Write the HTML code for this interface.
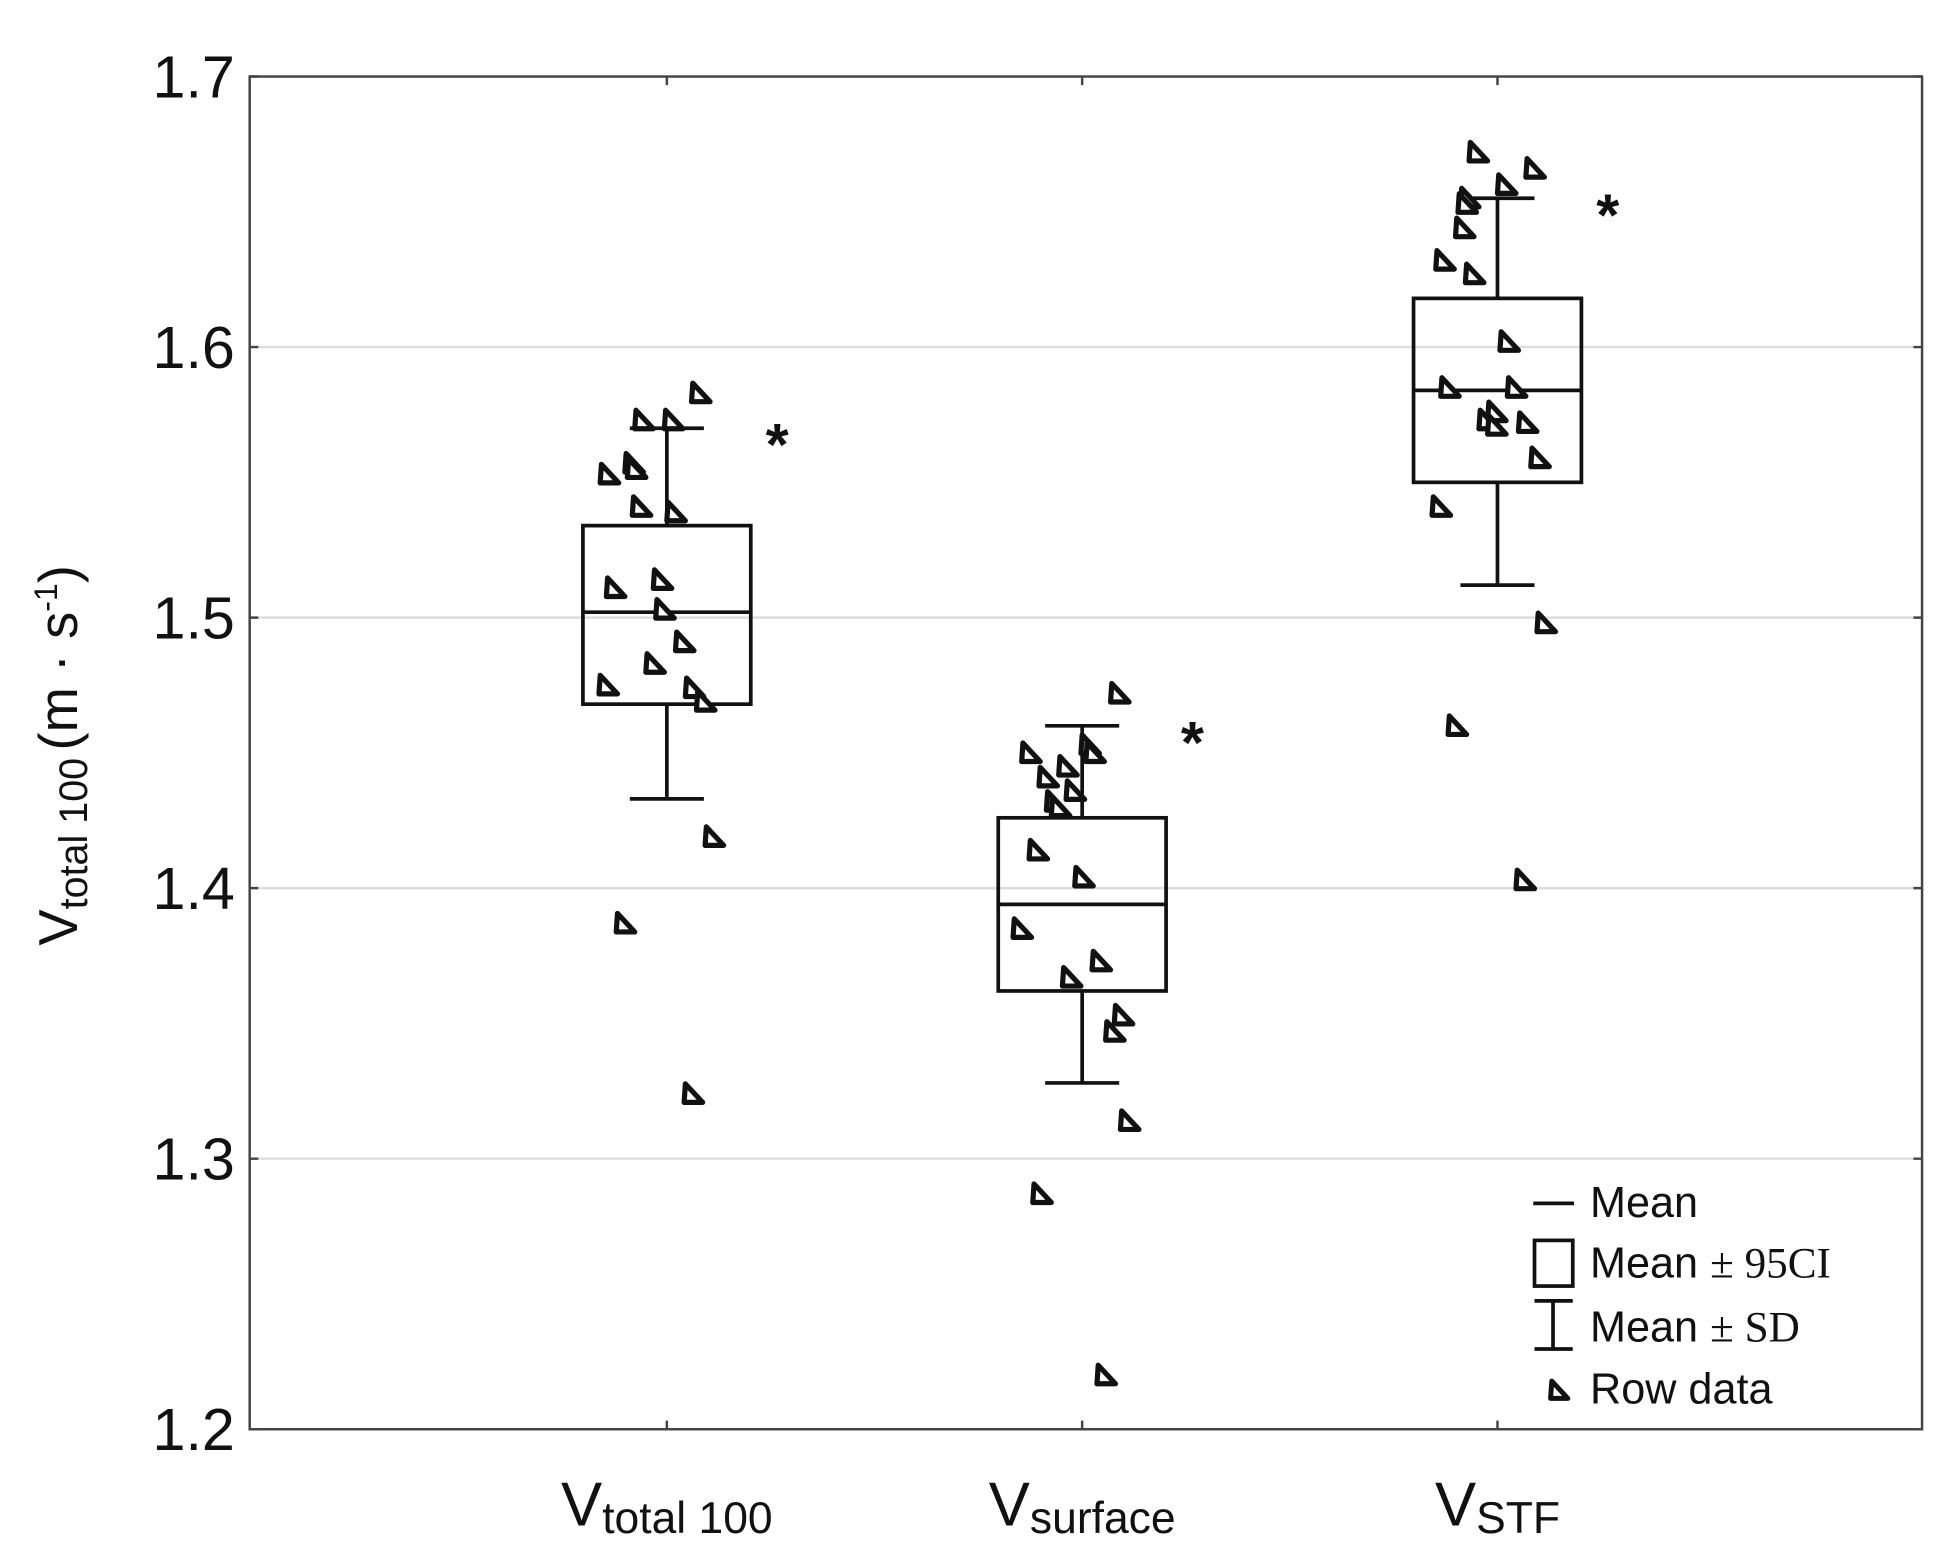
<!DOCTYPE html>
<html><head><meta charset="utf-8"><style>
html,body{margin:0;padding:0;background:#fff;}
svg{display:block;font-family:"Liberation Sans",sans-serif;}
</style></head><body>
<svg id="chart" width="1936" height="1565" viewBox="0 0 1568 1268" xmlns="http://www.w3.org/2000/svg">
<g id="grid"></g>
<rect x="202" y="62" width="1355" height="1096" fill="none" stroke="#444" stroke-width="2"/>
<g id="yaxis"></g>
<g id="xaxis"></g>
<g id="marks"></g>
<text transform="translate(62,612) rotate(-90)" text-anchor="middle" font-size="44" fill="#111">V<tspan font-size="32" dy="8">total 100</tspan><tspan dy="-8" dx="6">(m · s</tspan><tspan font-size="26" dy="-16">-1</tspan><tspan dy="16">)</tspan></text>
<g>
  <line x1="1242" y1="975" x2="1275" y2="975" stroke="#111" stroke-width="3"/>
  <text x="1288" y="986" font-size="35" fill="#111">Mean</text>
  <rect x="1243" y="1005" width="31" height="37" fill="none" stroke="#111" stroke-width="3"/>
  <text x="1288" y="1035" font-size="35" fill="#111">Mean <tspan font-family="Liberation Serif" font-size="35">± 95CI</tspan></text>
  <path d="M1243,1054 H1274 M1258,1054 V1093 M1243,1093 H1274" fill="none" stroke="#111" stroke-width="3"/>
  <text x="1288" y="1087" font-size="35" fill="#111">Mean <tspan font-family="Liberation Serif" font-size="35">± SD</tspan></text>
  <path d="M1256,1133 L1257,1119 L1270,1133 Z" fill="#fff" stroke="#111" stroke-width="4" stroke-linejoin="round"/>
  <text x="1288" y="1137" font-size="35" fill="#111">Row data</text>
</g>
</svg>
<script>
const categories = ["total 100", "surface", "STF"];
const means = [1.502, 1.394, 1.584];
const ciLow = [1.468, 1.362, 1.550];
const ciHigh = [1.534, 1.426, 1.618];
const sdLow = [1.433, 1.328, 1.512];
const sdHigh = [1.570, 1.460, 1.655];
const yTicks = [1.2, 1.3, 1.4, 1.5, 1.6, 1.7];
const yTickLabels = ["1.2", "1.3", "1.4", "1.5", "1.6", "1.7"];
const raw0 = [1.583,1.573,1.573,1.553,1.557,1.555,1.541,1.539,1.511,1.514,1.503,1.491,1.483,1.475,1.474,1.469,1.419,1.387,1.324];
const raw1 = [1.472,1.450,1.453,1.450,1.445,1.441,1.436,1.432,1.430,1.414,1.404,1.385,1.373,1.367,1.353,1.347,1.314,1.287,1.220];
const raw2 = [1.672,1.666,1.660,1.655,1.653,1.644,1.632,1.627,1.602,1.585,1.585,1.576,1.573,1.571,1.572,1.559,1.541,1.498,1.460,1.403];
const jitter0 = [27,-19,5,-47,-27,-25,-21,7,-42,-4,-2,14,-10,-48,22,31,38,-34,21];
const jitter1 = [30,-42,6,10,-12,-28,-6,-22,-18,-36,1,-49,15,-9,33,26,38,-33,19];
const jitter2 = [-16,30,7,-23,-25,-27,-43,-19,9,-39,15,-1,-8,-1,24,34,-46,39,-33,22];
const raws=[raw0,raw1,raw2], jits=[jitter0,jitter1,jitter2];
const NS="http://www.w3.org/2000/svg";
const L=202,R=1557,T=62,B=1158,vmin=1.2,vmax=1.7;
const y=v=>B-(v-vmin)/(vmax-vmin)*(B-T);
const x=i=>540+i*336.5;
function mk(tag,attrs,parent){const e=document.createElementNS(NS,tag);for(const k in attrs)e.setAttribute(k,attrs[k]);parent.appendChild(e);return e;}
const grid=document.getElementById('grid'),ya=document.getElementById('yaxis'),xa=document.getElementById('xaxis'),marks=document.getElementById('marks');
yTicks.forEach((t,i)=>{
  if(t>vmin&&t<vmax){const g=mk('line',{x1:L,x2:R,y1:y(t),y2:y(t),stroke:'#ddd','stroke-width':2},grid);
  
  }
  const tk=mk('path',{d:`M${L},${y(t)} h7 M${R},${y(t)} h-7`,stroke:'#444','stroke-width':2},ya);
  
  
  const lb=mk('text',{x:190,y:y(t)+17,'text-anchor':'end','font-size':48,fill:'#111'},ya);
  lb.textContent=yTickLabels[i];
  
  
});
categories.forEach((c,i)=>{
  const cx=x(i);
  const tk=mk('path',{d:`M${cx},${B} v-7 M${cx},${T} v7`,stroke:'#444','stroke-width':2},xa);
  
  
  const lb=mk('text',{x:cx,y:1236,'text-anchor':'middle','font-size':50,fill:'#111'},xa);
  lb.innerHTML=`V<tspan font-size="36" dy="6">${c}</tspan>`;
  
  
  const g=mk('g',{},marks);
  
  
  const w=mk('path',{d:`M${cx},${y(sdHigh[i])} V${y(ciHigh[i])} M${cx},${y(ciLow[i])} V${y(sdLow[i])} M${cx-30},${y(sdHigh[i])} h60 M${cx-30},${y(sdLow[i])} h60`,stroke:'#111','stroke-width':3,fill:'none'},g);
  
  
  const b=mk('rect',{x:cx-68,y:y(ciHigh[i]),width:136,height:y(ciLow[i])-y(ciHigh[i]),fill:'none',stroke:'#111','stroke-width':3},g);
  
  
  const m=mk('line',{x1:cx-68,x2:cx+68,y1:y(means[i]),y2:y(means[i]),stroke:'#111','stroke-width':3},g);
  
  
  raws[i].forEach((v,k)=>{
    const px=cx+jits[i][k],py=y(v);
    const p=mk('path',{d:`M${px-7},${py+7} L${px-6},${py-8} L${px+8},${py+7} Z`,fill:'#fff',stroke:'#111','stroke-width':4.2,'stroke-linejoin':'round'},g);
    
    
  });
  const s=mk('text',{x:cx+80,y:y(sdHigh[i])+30,'font-size':48,'font-weight':'bold',fill:'#111'},g);
  s.textContent='*';
  
  
});
</script>
</body></html>
